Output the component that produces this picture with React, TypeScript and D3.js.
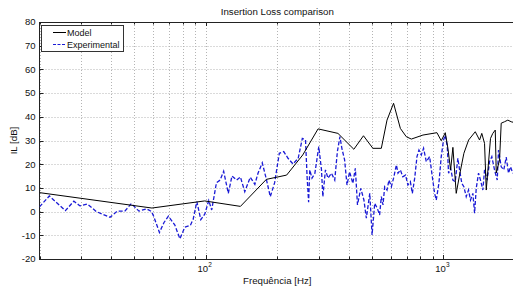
import * as React from "react";
import * as d3 from "d3";

// Model curve (frequency in Hz, insertion loss in dB)
const modelFreq = [20, 59.4, 99, 140, 180, 219, 256, 297, 360, 420, 461, 505, 548, 579, 617, 659, 698, 733, 820, 939, 979, 1018, 1044, 1072, 1096, 1132, 1169, 1219, 1276, 1361, 1419, 1450, 1489, 1514, 1578, 1613, 1652, 1668, 1722, 1750, 1806, 1866, 1928, 2000];
const modelIL = [8.0, 1.5, 4.5, 2.2, 13.6, 15.4, 23.9, 34.9, 33.0, 26.3, 32.0, 26.7, 26.7, 38.6, 45.7, 35.1, 31.6, 30.6, 32.3, 33.3, 29.9, 33.3, 26.8, 17.6, 27.1, 7.7, 15.4, 24.6, 30.2, 33.7, 30.2, 33.0, 28.8, 9.1, 30.9, 33.0, 34.4, 16.3, 21.8, 37.3, 37.9, 38.6, 37.9, 37.5];

// Experimental curve
const expFreq = [20, 22.0, 25.7, 27.9, 29.6, 31.8, 34.7, 39.6, 42.5, 45.7, 48.7, 52.4, 56.4, 59.2, 60.5, 63.9, 66.7, 69.7, 74.2, 77.9, 81.7, 86.2, 88.6, 91.8, 95.4, 99.2, 103, 106, 111, 115, 119, 124.5, 129, 135, 140, 146, 154, 161, 166, 173, 180, 187, 195, 204, 213, 222, 233, 245, 255, 263, 267, 271, 274, 280, 288, 299, 307, 311, 319, 327, 338, 349, 358, 367, 374, 384, 393, 403, 416, 426, 435, 449, 463, 474, 490, 501, 514, 527, 539, 548, 557, 566, 579, 590, 604, 617, 634, 644, 659, 675, 693, 709, 726, 740, 757, 774, 789, 807, 825, 847, 875, 898, 918, 933, 957, 979, 1001, 1018, 1038, 1051, 1072, 1096, 1121, 1150, 1169, 1195, 1219, 1247, 1275, 1300, 1330, 1352, 1374, 1405, 1432, 1465, 1489, 1528, 1563, 1598, 1640, 1684, 1705, 1750, 1794, 1837, 1878, 1915, 1958];
const expIL = [2.0, 6.6, 0.4, 4.4, 2.4, 3.2, 0.0, -2.4, 0.2, 0.2, 3.4, 0.2, 1.2, 0.0, -2.1, -8.8, -4.7, -1.9, -5.7, -11.5, -6.6, -5.8, -3.2, 4.2, -3.4, -1.0, 4.7, 0.7, 12.2, 13.3, 17.0, 7.7, 15.0, 13.3, 14.6, 8.4, 14.5, 11.5, 16.2, 20.6, 13.6, 6.3, 12.2, 24.6, 25.3, 22.5, 20.1, 22.5, 30.9, 30.2, 14.7, 4.0, 17.6, 14.1, 16.2, 27.4, 17.6, 6.3, 17.6, 14.1, 16.2, 13.3, 25.3, 31.6, 26.7, 21.8, 11.2, 16.8, 11.9, 18.3, 2.8, 9.8, 4.9, -2.8, 7.7, -9.9, 3.5, 1.4, -1.4, 6.3, 2.8, 10.5, 9.1, 13.3, 10.5, 14.1, 19.7, 16.2, 17.6, 14.7, 15.4, 11.2, 12.6, 7.7, 14.1, 23.2, 26.0, 23.9, 26.7, 21.1, 23.2, 14.7, 7.7, 4.9, 11.9, 23.2, 30.2, 32.3, 27.4, 16.2, 18.3, 13.3, 12.6, 22.5, 17.6, 11.9, 10.5, 6.3, 9.1, 4.9, 7.7, -0.7, 9.8, 16.2, 13.3, 9.1, 17.6, 13.3, 21.1, 23.2, 17.6, 13.3, 26.0, 18.9, 17.6, 23.0, 16.2, 18.9, 16.2];

const yTicks = [-20, -10, 0, 10, 20, 30, 40, 50, 60, 70, 80];
const xMajorTicks = [100, 1000];
const xMinorTicks = [20, 30, 40, 50, 60, 70, 80, 90, 200, 300, 400, 500, 600, 700, 800, 900];
const seriesNames = ["Model", "Experimental"];

const W = 513;
const H = 295;
const FONT = "'Liberation Sans', Arial, sans-serif";

export default function App() {
  const ref = React.useRef<SVGSVGElement | null>(null);

  React.useEffect(() => {
    const svg = d3.select(ref.current);
    svg.selectAll("*").remove();

    const left = 39.5, top = 22, right = 515, bottom = 259;
    const x = d3.scaleLog().domain([20, 2000]).range([left, right]);
    const y = d3.scaleLinear().domain([-20, 80]).range([bottom, top]);

    svg.append("rect").attr("width", W).attr("height", H).attr("fill", "#fff");

    svg.append("defs").append("clipPath").attr("id", "plotclip")
      .append("rect").attr("x", left).attr("y", top).attr("width", right - left).attr("height", bottom - top);

    const grid = svg.append("g").attr("stroke", "#b4b4b4").attr("stroke-width", 1).attr("stroke-dasharray", "1,2");
    // horizontal grid
    grid.selectAll("line.hy").data(yTicks.slice(1, -1)).enter().append("line")
      .attr("x1", left).attr("x2", right)
      .attr("y1", d => Math.round(y(d)) + 0.5).attr("y2", d => Math.round(y(d)) + 0.5);
    // vertical grid (major + minor)
    grid.selectAll("line.vx").data(xMinorTicks.concat(xMajorTicks)).enter().append("line")
      .attr("x1", d => Math.round(x(d)) + 0.5).attr("x2", d => Math.round(x(d)) + 0.5)
      .attr("y1", top).attr("y2", bottom);

    // axes box
    const axis = svg.append("g").attr("stroke", "#222").attr("stroke-width", 1).attr("fill", "none");
    axis.append("line").attr("x1", left).attr("x2", right).attr("y1", bottom + 0.5).attr("y2", bottom + 0.5);
    axis.append("line").attr("x1", left).attr("x2", right).attr("y1", top + 0.5).attr("y2", top + 0.5);
    axis.append("line").attr("x1", left).attr("x2", left).attr("y1", top).attr("y2", bottom + 1);

    // ticks
    yTicks.forEach(t => {
      const yy = Math.round(y(t)) + 0.5;
      axis.append("line").attr("x1", left).attr("x2", left + 4).attr("y1", yy).attr("y2", yy);
    });
    xMajorTicks.forEach(t => {
      const xx = Math.round(x(t)) + 0.5;
      axis.append("line").attr("x1", xx).attr("x2", xx).attr("y1", bottom).attr("y2", bottom - 4);
      axis.append("line").attr("x1", xx).attr("x2", xx).attr("y1", top).attr("y2", top + 4);
    });
    xMinorTicks.forEach(t => {
      const xx = Math.round(x(t)) + 0.5;
      axis.append("line").attr("x1", xx).attr("x2", xx).attr("y1", bottom).attr("y2", bottom - 2.5);
      axis.append("line").attr("x1", xx).attr("x2", xx).attr("y1", top).attr("y2", top + 2.5);
    });

    // tick labels
    const txt = svg.append("g").attr("font-family", FONT).attr("fill", "#111");
    txt.selectAll("text.yl").data(yTicks).enter().append("text")
      .attr("x", left - 4).attr("y", d => y(d) + 3.3)
      .attr("text-anchor", "end").attr("font-size", 9.5)
      .text(d => String(d));
    xMajorTicks.forEach(t => {
      const g = txt.append("text").attr("x", x(t) - 1).attr("y", bottom + 12.5)
        .attr("text-anchor", "middle").attr("font-size", 9.5);
      g.append("tspan").text("10");
      g.append("tspan").attr("font-size", 6.5).attr("dy", -4.5).text(String(Math.round(Math.log10(t))));
    });

    txt.append("text").attr("x", (left + right) / 2).attr("y", 14.5)
      .attr("text-anchor", "middle").attr("font-size", 9.7).text("Insertion Loss comparison");
    txt.append("text").attr("x", (left + right) / 2).attr("y", 284)
      .attr("text-anchor", "middle").attr("font-size", 9.7).text("Frequência [Hz]");
    txt.append("text").attr("transform", `translate(17,${(top + bottom) / 2}) rotate(-90)`)
      .attr("text-anchor", "middle").attr("font-size", 9.7).text("IL [dB]");

    // lines
    const line = d3.line<[number, number]>().x(d => x(d[0])).y(d => y(d[1]));
    const plot = svg.append("g").attr("clip-path", "url(#plotclip)");
    const expData = expFreq.map((f, i) => [f, expIL[i]] as [number, number]);
    const modelData = modelFreq.map((f, i) => [f, modelIL[i]] as [number, number]);
    plot.append("path").attr("d", line(expData))
      .attr("fill", "none").attr("stroke", "#1a1ad6").attr("stroke-width", 1.3)
      .attr("stroke-dasharray", "4,2");
    plot.append("path").attr("d", line(modelData))
      .attr("fill", "none").attr("stroke", "#000").attr("stroke-width", 1);

    // legend
    const lg = svg.append("g");
    lg.append("rect").attr("x", 41.5).attr("y", 25.5).attr("width", 82).attr("height", 26)
      .attr("fill", "#fff").attr("stroke", "#333").attr("stroke-width", 1);
    seriesNames.forEach((name, i) => {
      const yy = 32.5 + i * 12;
      lg.append("line").attr("x1", 53).attr("x2", 66).attr("y1", yy).attr("y2", yy)
        .attr("stroke", i === 0 ? "#000" : "#1a1ad6").attr("stroke-width", 1)
        .attr("stroke-dasharray", i === 0 ? null : "3,1.5");
      lg.append("text").attr("x", 67).attr("y", yy + 3.3).attr("font-family", FONT)
        .attr("font-size", 9).attr("fill", "#111").text(name);
    });
  }, []);

  return (
    <svg ref={ref} width={W} height={H} style={{ position: "absolute", left: 0, top: 0, display: "block" }} />
  );
}
